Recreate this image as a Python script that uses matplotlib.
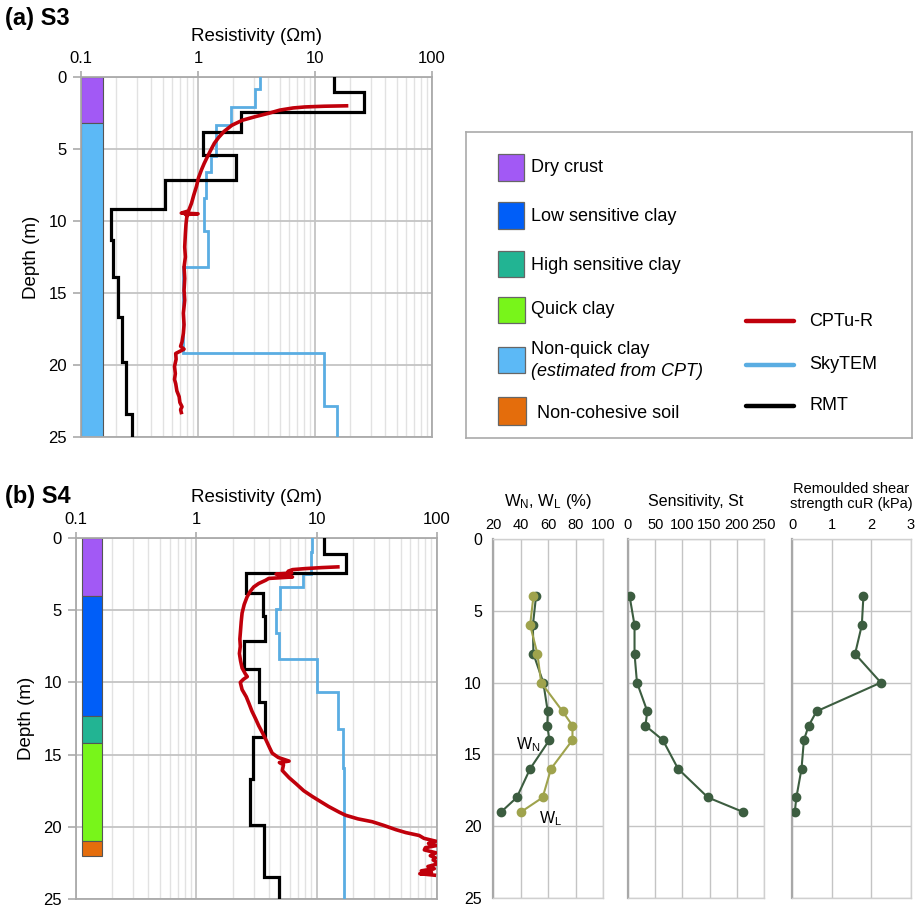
import matplotlib
matplotlib.use('Agg')
import matplotlib.pyplot as plt
import numpy as np
from matplotlib.patches import Rectangle
from matplotlib.lines import Line2D

plt.rcParams['font.family'] = ['Liberation Sans', 'DejaVu Sans']
plt.rcParams['mathtext.fontset'] = 'custom'
plt.rcParams['mathtext.rm'] = 'Liberation Sans'
plt.rcParams['mathtext.it'] = 'Liberation Sans:italic'

# ---------------- Data ----------------
soil_names = ['Dry crust', 'Low sensitive clay', 'High sensitive clay', 'Quick clay',
              'Non-quick clay', 'Non-cohesive soil']
soil_colors = ['#a259f5', '#005ef8', '#22b493', '#78f51a', '#5cb9f6', '#e46d0c']

# S3 soil column
s3_layer_top = [0.0, 3.2]
s3_layer_bot = [3.2, 25.0]
s3_layer_type = [0, 4]
# S4 soil column
s4_layer_top = [0.0, 4.0, 12.3, 14.2, 21.0]
s4_layer_bot = [4.0, 12.3, 14.2, 21.0, 22.0]
s4_layer_type = [0, 1, 2, 3, 5]

# RMT layered models (layer boundaries, resistivity per layer)
s3_rmt_depth = [0, 1.05, 2.45, 3.85, 5.4, 7.15, 9.15, 11.35, 13.9, 16.7, 19.8, 23.4, 25]
s3_rmt_res = [14.5, 26, 2.35, 1.1, 2.1, 0.52, 0.181, 0.186, 0.207, 0.222, 0.243, 0.273]
s4_rmt_depth = [0, 1.08, 2.42, 3.8, 5.4, 7.12, 9.1, 11.35, 13.8, 16.7, 19.9, 23.45, 25]
s4_rmt_res = [11.5, 17.4, 2.61, 3.57, 3.72, 2.48, 3.3, 3.72, 2.95, 2.8, 3.68, 4.9]

# SkyTEM layered models
s3_sky_depth = [0, 0.84, 2.05, 3.35, 5.5, 6.6, 8.4, 10.7, 13.2, 19.2, 22.85, 25]
s3_sky_res = [3.37, 3.07, 1.9, 1.42, 1.3, 1.17, 1.13, 1.21, 0.745, 11.9, 15.5]
s4_sky_depth = [0, 0.97, 2.47, 3.39, 4.89, 6.6, 8.4, 10.65, 13.2, 15.96, 25]
s4_sky_res = [9.2, 9.0, 7.7, 5.0, 4.6, 4.86, 10.0, 14.9, 16.4, 16.9]

# CPTu-R profiles
s3_cpt_depth = [2.0, 2.03, 2.08, 2.15, 2.3, 2.5, 2.75, 3.0, 3.35, 3.78, 4.2, 4.6, 5.0, 5.5,
                6.0, 6.45, 7.0, 7.6, 8.2, 8.77, 9.3, 9.45, 9.5, 9.55, 9.6, 9.8, 10.2, 10.9,
                11.8, 12.5, 13.2, 14.0, 14.8, 15.5, 16.4, 17.2, 17.8, 18.4, 18.7, 18.9, 19.2,
                19.6, 20.1, 20.6, 21.0, 21.3, 21.8, 22.2, 22.6, 22.9, 23.1, 23.3]
s3_cpt_res = [18.6, 12.0, 8.2, 6.5, 5.0, 4.1, 3.1, 2.4, 1.95, 1.67, 1.5, 1.38, 1.3, 1.21,
              1.13, 1.07, 1.01, 0.97, 0.92, 0.88, 0.83, 0.72, 1.0, 0.78, 0.81, 0.8, 0.79, 0.78,
              0.77, 0.78, 0.76, 0.77, 0.76, 0.77, 0.75, 0.76, 0.75, 0.73, 0.71, 0.76, 0.645,
              0.65, 0.63, 0.64, 0.63, 0.645, 0.66, 0.69, 0.7, 0.73, 0.71, 0.72]
s4_cpt_depth = [2.0, 2.05, 2.12, 2.19, 2.3, 2.42, 2.5, 2.6, 2.7, 2.8, 2.93, 3.15, 3.39, 3.7,
                4.08, 4.6, 5.2, 5.8, 6.4, 7.0, 7.5, 8.0, 8.5, 9.0, 9.4, 9.6, 9.8, 10.0, 10.5,
                11.0, 11.5, 12.0, 12.5, 13.0, 13.5, 14.0, 14.5, 14.9, 15.2, 15.45, 15.55, 15.7,
                16.1, 16.6, 17.0, 17.5, 17.9, 18.3, 18.6, 19.0, 19.2, 19.45, 19.65, 19.9, 20.2,
                20.4, 20.6, 20.8, 21.0, 21.15, 21.3, 21.45, 21.6, 21.8, 22.0, 22.15, 22.3, 22.45,
                22.6, 22.75, 22.9, 23.05, 23.15, 23.25, 23.35]
s4_cpt_res = [15.0, 11.0, 8.0, 6.3, 5.8, 6.2, 4.6, 5.5, 6.3, 4.0, 3.76, 3.3, 3.0, 2.8,
              2.64, 2.5, 2.4, 2.36, 2.33, 2.3, 2.32, 2.28, 2.33, 2.4, 2.55, 2.65, 2.45, 2.32, 2.4,
              2.6, 2.75, 2.9, 3.1, 3.3, 3.55, 3.8, 4.05, 4.27, 4.8, 5.9, 4.9, 5.3,
              5.18, 5.9, 6.7, 7.8, 9.2, 11.0, 12.6, 15.5, 17.4, 22.0, 29.0, 36.0, 45.6,
              55.0, 71.0, 78.0, 98.0, 85.0, 99.0, 80.0, 78.5, 98.0, 88.0, 97.0, 93.0, 99.0,
              98.0, 84.0, 95.0, 74.0, 90.0, 72.0, 95.0]

# Laboratory data, S4
wn_depth = [4, 6, 8, 10, 12, 13, 14, 16, 18, 19]
wn = [51.3, 49.0, 49.4, 56.6, 59.8, 59.5, 61.0, 47.0, 37.3, 26.0]
wl_depth = [4, 6, 8, 10, 12, 13, 14, 16, 18, 19]
wl = [49.4, 47.0, 52.3, 55.0, 70.6, 77.8, 77.8, 62.2, 56.1, 40.5]
st_depth = [4, 6, 8, 10, 12, 13, 14, 16, 18, 19]
st = [3, 12, 12, 16.5, 35.5, 32, 64, 92, 147, 211]
cur_depth = [4, 6, 8, 10, 12, 13, 14, 16, 18, 19]
cur = [1.8, 1.76, 1.59, 2.24, 0.62, 0.42, 0.30, 0.24, 0.11, 0.07]

res_ticks = [0.1, 1, 10, 100]
res_ticklabels = ['0.1', '1', '10', '100']
depth_ticks = [0, 5, 10, 15, 20, 25]
wn_ticks = [20, 40, 60, 80, 100]
st_ticks = [0, 50, 100, 150, 200, 250]
cur_ticks = [0, 1, 2, 3]

# ---------------- Styles ----------------
C_RED = '#c0000b'
C_BLUE = '#5aade2'
C_BLACK = '#000000'
C_DKGREEN = '#3c5d40'
C_OLIVE = '#9fa34d'
GRID_MAJ = '#c4c4c4'
GRID_MIN = '#e2e2e2'
SPINE = '#aaaaaa'


def step_xy(depths, vals):
    d = np.asarray(depths, float)
    v = np.asarray(vals, float)
    y = np.repeat(d, 2)[1:-1]
    x = np.repeat(v, 2)
    return x, y


W, H = 921, 908
fig = plt.figure(figsize=(W / 100, H / 100), dpi=100)


def px_axes(x0, y0, x1, y1):
    return fig.add_axes([x0 / W, 1 - y1 / H, (x1 - x0) / W, (y1 - y0) / H])


def resist_panel(ax, top, bot, types, col_x0, col_x1, rmt_d, rmt_r, sky_d, sky_r, cpt_d, cpt_r):
    ax.set_xscale('log')
    ax.set_xlim(0.1, 100)
    ax.set_ylim(25, 0)
    ax.set_xticks(res_ticks)
    ax.set_xticklabels(res_ticklabels)
    ax.set_yticks(depth_ticks)
    ax.xaxis.tick_top()
    ax.grid(True, which='major', color=GRID_MAJ, lw=1.3, zorder=0)
    ax.grid(True, which='minor', axis='x', color=GRID_MIN, lw=1.0, zorder=0)
    ax.set_axisbelow(True)
    for s in ax.spines.values():
        s.set_color(SPINE)
        s.set_linewidth(1.3)
    ax.tick_params(axis='both', which='major', labelsize=12, color=SPINE, width=1.2, length=6, pad=4)
    ax.tick_params(axis='x', which='minor', top=False, bottom=False)
    ax.tick_params(axis='x', which='major', bottom=False, length=4)
    for t, b, k in zip(top, bot, types):
        ax.barh((t + b) / 2, col_x1 - col_x0, height=b - t, left=col_x0,
                color=soil_colors[k], edgecolor='#555555', linewidth=0.8, zorder=2)
    x, y = step_xy(sky_d, sky_r)
    ax.plot(x, y, color=C_BLUE, lw=2.0, zorder=3, solid_joinstyle='miter')
    x, y = step_xy(rmt_d, rmt_r)
    ax.plot(x, y, color=C_BLACK, lw=2.3, zorder=4, solid_joinstyle='miter')
    ax.plot(cpt_r, cpt_d, color=C_RED, lw=2.6, zorder=5, clip_on=True)
    ax.set_ylabel('Depth (m)', fontsize=13.5, labelpad=6)
    ax.set_xlabel('Resistivity (\u03a9m)', fontsize=13.5, labelpad=7)
    ax.xaxis.set_label_position('top')


# Panel (a)
axa = px_axes(81, 77, 432, 437)
resist_panel(axa, s3_layer_top, s3_layer_bot, s3_layer_type, 0.1, 0.153,
             s3_rmt_depth, s3_rmt_res, s3_sky_depth, s3_sky_res, s3_cpt_depth, s3_cpt_res)
fig.text(5 / W, 1 - 19 / H, '(a) S3', fontsize=17, fontweight='bold', va='center', ha='left')

# Panel (b)
axb = px_axes(76, 538, 437, 899)
resist_panel(axb, s4_layer_top, s4_layer_bot, s4_layer_type, 0.112, 0.165,
             s4_rmt_depth, s4_rmt_res, s4_sky_depth, s4_sky_res, s4_cpt_depth, s4_cpt_res)
fig.text(5 / W, 1 - 496 / H, '(b) S4', fontsize=17, fontweight='bold', va='center', ha='left')

# Legend box
axl = px_axes(466, 132, 912, 438)
axl.set_xlim(466, 912)
axl.set_ylim(438, 132)
axl.set_xticks([])
axl.set_yticks([])
for s in axl.spines.values():
    s.set_color('#aaaaaa')
    s.set_linewidth(1.2)
patch_rows = [(154, 180.5), (202, 229), (251, 277), (296.5, 323), (346.5, 373), (396.5, 425)]
patch_w = [26, 26, 26, 27.5, 27.5, 28]
text_y = [167, 216.5, 265, 310, None, 413]
for i, ((y0, y1), pw) in enumerate(zip(patch_rows, patch_w)):
    axl.add_patch(Rectangle((497.5, y0), pw, y1 - y0, facecolor=soil_colors[i],
                            edgecolor='#666666', lw=0.9))
for i in [0, 1, 2, 3]:
    axl.text(530.5, text_y[i], soil_names[i], fontsize=13, va='center', ha='left')
axl.text(530.5, 349, 'Non-quick clay', fontsize=13, va='center', ha='left')
axl.text(530.5, 371, '(estimated from CPT)', fontsize=13, va='center', ha='left', style='italic')
axl.text(537, 413, soil_names[5], fontsize=13, va='center', ha='left')
for yy, c, lab in [(321, C_RED, 'CPTu-R'), (364.5, C_BLUE, 'SkyTEM'), (405.5, C_BLACK, 'RMT')]:
    axl.add_line(Line2D([746, 794], [yy, yy], color=c, lw=3.2, solid_capstyle='round'))
    axl.text(809, yy, lab, fontsize=13, va='center', ha='left')


# Lab panels
def lab_panel(ax, xlim, ticks, show_y):
    ax.set_xlim(*xlim)
    ax.set_ylim(25, 0)
    ax.set_xticks(ticks)
    ax.set_yticks(depth_ticks)
    ax.xaxis.tick_top()
    ax.grid(True, color=GRID_MAJ, lw=1.0, zorder=0)
    ax.set_axisbelow(True)
    for name, s in ax.spines.items():
        s.set_color('#d0d0d0')
        s.set_linewidth(1.0)
    ax.spines['left'].set_color('#a8a8a8')
    ax.spines['left'].set_linewidth(1.6)
    ax.tick_params(axis='x', length=0, labelsize=10.5, pad=5)
    ax.tick_params(axis='y', length=0, labelsize=11.5, pad=8, labelleft=show_y)


ax1 = px_axes(493, 539, 603, 898)
lab_panel(ax1, (20, 100), wn_ticks, True)
ax1.plot(wn, wn_depth, '-o', color=C_DKGREEN, lw=1.5, ms=6, zorder=3)
ax1.plot(wl, wl_depth, '-o', color=C_OLIVE, lw=1.5, ms=6, zorder=4)
ax1.text(45.7, 14.35, r'W$_\mathrm{N}$', fontsize=11.5, ha='center', va='center')
ax1.text(61.5, 19.5, r'W$_\mathrm{L}$', fontsize=11.5, ha='center', va='center')
ax1.set_title(r'W$_\mathrm{N}$, W$_\mathrm{L}$ (%)', fontsize=12, pad=24)

ax2 = px_axes(628, 539, 764, 898)
lab_panel(ax2, (0, 250), st_ticks, False)
ax2.plot(st, st_depth, '-o', color=C_DKGREEN, lw=1.5, ms=6, zorder=3)
ax2.set_title('Sensitivity, St', fontsize=11.5, pad=24)

ax3 = px_axes(792, 539, 911, 898)
lab_panel(ax3, (0, 3), cur_ticks, False)
ax3.plot(cur, cur_depth, '-o', color=C_DKGREEN, lw=1.5, ms=6, zorder=3)
ax3.set_title('Remoulded shear\nstrength cuR (kPa)', fontsize=10.5, pad=22, linespacing=1.1)

fig.savefig('out.png', dpi=100)
